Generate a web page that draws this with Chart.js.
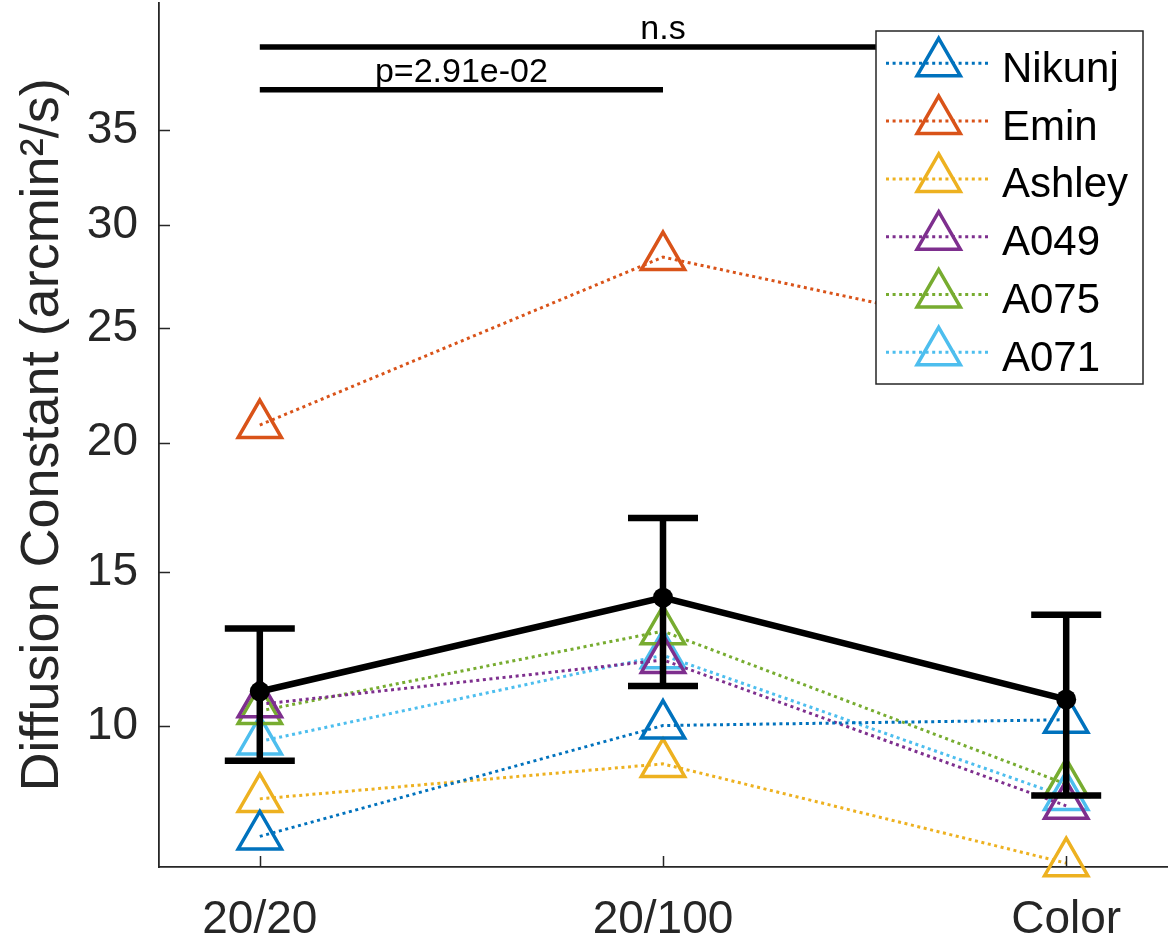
<!DOCTYPE html>
<html>
<head>
<meta charset="utf-8">
<script src="https://cdn.jsdelivr.net/npm/chart.js@4/dist/chart.umd.min.js"></script>
<style>
  html, body { margin: 0; padding: 0; background: #ffffff; }
  #wrap { width: 1172px; height: 943px; }
</style>
</head>
<body>
<div id="wrap"><canvas id="c" width="1172" height="943"></canvas></div>
<script>
// Viewing conditions along x, tick values on the y axis
const categories = ['20/20', '20/100', 'Color'];
const yTicks = [10, 15, 20, 25, 30, 35];

// Group mean and its error (drawn as error bars)
const meanVals = [11.03, 14.1, 10.79];
const errVals  = [2.02, 2.9, 2.72];

// Individual subjects
const subjectNames = ['Nikunj', 'Emin', 'Ashley', 'A049', 'A075', 'A071'];
const nikunj = [7.03, 10.01, 10.18];
const emin   = [20.73, 28.4, 24.3];
const ashley = [7.98, 8.92, 6.39];
const a049   = [10.64, 12.02, 7.80];
const a075   = [10.44, 12.96, 8.37];
const a071   = [9.55, 12.17, 8.03];
const subjectValues = [nikunj, emin, ashley, a049, a075, a071];
const subjectColors = ['#0072BD', '#D95319', '#EDB120', '#7E2F8E', '#77AC30', '#4DBEEE'];

// Pairwise comparisons: condition indices (1-based), bar height, label
const sigFrom  = [1, 1];
const sigTo    = [3, 2];
const sigLevel = [39.7, 37.25];
const sigText  = ['n.s', 'p=2.91e-02'];

const FONT = "'Liberation Sans', Arial, Helvetica, sans-serif";
const AXIS_COLOR = '#262626';

// Square-root value axis
class SqrtScale extends Chart.LinearScale {
  getPixelForValue(value) {
    const a = Math.sqrt(this.min), b = Math.sqrt(this.max);
    return this.getPixelForDecimal((Math.sqrt(Math.max(value, 0)) - a) / (b - a));
  }
  getValueForPixel(pixel) {
    const a = Math.sqrt(this.min), b = Math.sqrt(this.max);
    const s = a + this.getDecimalForPixel(pixel) * (b - a);
    return s * s;
  }
}
SqrtScale.id = 'sqrt';
SqrtScale.defaults = Chart.LinearScale.defaults;
Chart.register(SqrtScale);

function trianglePath(ctx, cx, cy, r) {
  const c = Math.cos(Math.PI / 6) * r;
  ctx.beginPath();
  ctx.moveTo(cx, cy - r);
  ctx.lineTo(cx + c, cy + r / 2);
  ctx.lineTo(cx - c, cy + r / 2);
  ctx.closePath();
}

const extras = {
  id: 'extras',
  afterDatasetsDraw(chart) {
    const { ctx, scales: { x, y } } = chart;
    // error bars around the group mean
    ctx.save();
    ctx.strokeStyle = '#000';
    ctx.lineWidth = 6.5;
    ctx.lineCap = 'butt';
    meanVals.forEach((m, i) => {
      const px = x.getPixelForValue(i + 1);
      const top = y.getPixelForValue(m + errVals[i]);
      const bot = y.getPixelForValue(m - errVals[i]);
      ctx.beginPath();
      ctx.moveTo(px, top); ctx.lineTo(px, bot);
      ctx.moveTo(px - 35, top); ctx.lineTo(px + 35, top);
      ctx.moveTo(px - 35, bot); ctx.lineTo(px + 35, bot);
      ctx.stroke();
    });
    ctx.restore();
  },
  afterDraw(chart) {
    const { ctx, chartArea: area, scales: { x, y } } = chart;
    ctx.save();
    // inward tick marks
    ctx.strokeStyle = AXIS_COLOR;
    ctx.lineWidth = 1.5;
    ctx.beginPath();
    y.ticks.forEach(t => {
      const py = Math.round(y.getPixelForValue(t.value)) + 0.5;
      ctx.moveTo(area.left, py); ctx.lineTo(area.left + 11, py);
    });
    x.ticks.forEach(t => {
      const px = Math.round(x.getPixelForValue(t.value)) + 0.5;
      ctx.moveTo(px, area.bottom); ctx.lineTo(px, area.bottom - 11);
    });
    ctx.stroke();

    // significance bars
    ctx.strokeStyle = '#000';
    ctx.fillStyle = '#000';
    ctx.lineWidth = 5.5;
    ctx.font = '34px ' + FONT;
    ctx.textAlign = 'center';
    ctx.textBaseline = 'alphabetic';
    sigLevel.forEach((lv, i) => {
      const x0 = x.getPixelForValue(sigFrom[i]);
      const x1 = x.getPixelForValue(sigTo[i]);
      const py = y.getPixelForValue(lv);
      ctx.beginPath();
      ctx.moveTo(x0, py); ctx.lineTo(x1, py);
      ctx.stroke();
      ctx.fillText(sigText[i], (x0 + x1) / 2, py - 8);
    });

    // legend box
    const bx0 = area.right - 291, bx1 = area.right - 24;
    const by0 = area.top + 28, by1 = area.top + 381;
    ctx.fillStyle = '#fff';
    ctx.fillRect(bx0, by0, bx1 - bx0, by1 - by0);
    ctx.strokeStyle = AXIS_COLOR;
    ctx.lineWidth = 1.5;
    ctx.strokeRect(bx0, by0, bx1 - bx0, by1 - by0);
    ctx.font = '42px ' + FONT;
    ctx.textAlign = 'left';
    chart.data.datasets.forEach(ds => {
      if (ds.legendRow === undefined) return;
      const ry = by0 + 32.3 + ds.legendRow * 57.8;
      ctx.strokeStyle = ds.borderColor;
      ctx.lineWidth = 3;
      ctx.setLineDash([3, 3.6]);
      ctx.beginPath();
      ctx.moveTo(bx0 + 10, ry); ctx.lineTo(bx0 + 114, ry);
      ctx.stroke();
      ctx.setLineDash([]);
      ctx.lineWidth = 3.5;
      trianglePath(ctx, bx0 + 62.7, ry, 25);
      ctx.stroke();
      ctx.fillStyle = '#000';
      ctx.fillText(ds.label, bx0 + 126, ry + 18.4);
    });
    ctx.restore();
  }
};

const datasets = subjectValues.map((vals, k) => ({
  label: subjectNames[k],
  legendRow: k,
  data: vals.map((v, i) => ({ x: i + 1, y: v })),
  borderColor: subjectColors[k],
  backgroundColor: 'rgba(0,0,0,0)',
  borderWidth: 3,
  borderDash: [3, 3.6],
  pointStyle: 'triangle',
  pointRadius: 25,
  pointBorderWidth: 3.5,
  pointBorderColor: subjectColors[k],
  pointBackgroundColor: 'rgba(0,0,0,0)',
  tension: 0,
  fill: false,
  clip: false,
  order: 1
}));

datasets.push({
  label: 'Mean',
  data: meanVals.map((v, i) => ({ x: i + 1, y: v })),
  borderColor: '#000',
  backgroundColor: '#000',
  borderWidth: 6.5,
  pointStyle: 'circle',
  pointRadius: 10,
  pointBorderWidth: 0,
  pointBackgroundColor: '#000',
  tension: 0,
  fill: false,
  clip: false,
  order: 0
});

new Chart(document.getElementById('c'), {
  type: 'line',
  data: { datasets },
  options: {
    responsive: false,
    animation: false,
    events: [],
    devicePixelRatio: 1,
    layout: { padding: { top: 3, right: 5, left: 0, bottom: 0 }, autoPadding: false },
    plugins: { legend: { display: false }, tooltip: { enabled: false } },
    scales: {
      x: {
        type: 'linear',
        min: 0.75,
        max: 3.25,
        afterBuildTicks: s => { s.ticks = categories.map((c, i) => ({ value: i + 1 })); },
        afterFit: s => { s.height = 76; s.paddingLeft = 0; s.paddingRight = 0; },
        grid: { display: false, drawTicks: false },
        border: { display: true, color: AXIS_COLOR, width: 1.8 },
        ticks: {
          autoSkip: false, maxRotation: 0, padding: 26,
          color: AXIS_COLOR,
          font: { family: FONT, size: 46 },
          callback: v => categories[Math.round(v) - 1]
        }
      },
      y: {
        type: 'sqrt',
        min: 6.3,
        max: 42.3,
        afterBuildTicks: s => { s.ticks = yTicks.map(v => ({ value: v })); },
        afterFit: s => { s.width = 159; s.paddingTop = 0; s.paddingBottom = 0; },
        grid: { display: false, drawTicks: false },
        border: { display: true, color: AXIS_COLOR, width: 1.8 },
        ticks: {
          padding: 21,
          color: AXIS_COLOR,
          font: { family: FONT, size: 46 },
          callback: v => String(v)
        },
        title: {
          display: true,
          text: 'Diffusion Constant (arcmin²/s)',
          color: AXIS_COLOR,
          font: { family: FONT, size: 54 },
          padding: { top: 11, bottom: 0 }
        }
      }
    }
  },
  plugins: [extras]
});
</script>
</body>
</html>
